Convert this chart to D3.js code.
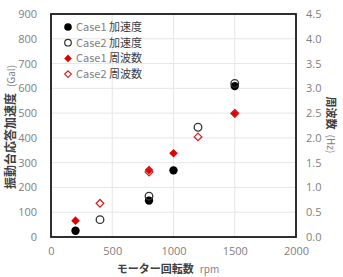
<!DOCTYPE html>
<html><head><meta charset="utf-8">
<script src="https://cdn.jsdelivr.net/npm/d3@7"></script>
<style>body{margin:0;background:#fff;}svg{display:block;}</style>
</head><body>
<script>
const case1Rpm = [200, 800, 1000, 1500];
const case1Acc = [25, 147, 269, 609];
const case1Freq = [0.33, 1.35, 1.69, 2.50];
const case2Rpm = [400, 800, 1200, 1500];
const case2Acc = [70, 165, 443, 620];
const case2Freq = [0.68, 1.31, 2.02, 2.49];
const xTicks = [0, 500, 1000, 1500, 2000];
const yTicks = [0,100,200,300,400,500,600,700,800,900];
const y2Ticks = [0,0.5,1,1.5,2,2.5,3,3.5,4,4.5];
const legendNames = [["Case1","加速度"],["Case2","加速度"],["Case1","周波数"],["Case2","周波数"]];

const W=343,H=277, L=51,R=296,T=14,B=237;
const svg=d3.select("body").append("svg").attr("width",W).attr("height",H);
const font="'Noto Sans CJK JP','Noto Sans',sans-serif";
const x=d3.scaleLinear().domain([0,2000]).range([L,R]);
const y=d3.scaleLinear().domain([0,900]).range([B,T]);
const y2=d3.scaleLinear().domain([0,4.5]).range([B,T]);

// gridlines
svg.append("g").selectAll("line").data(yTicks).join("line")
  .attr("x1",L).attr("x2",R).attr("y1",d=>y(d)).attr("y2",d=>y(d))
  .attr("stroke","#e6e6e6").attr("stroke-width",1);
svg.append("g").selectAll("line").data(xTicks).join("line")
  .attr("y1",T).attr("y2",B).attr("x1",d=>x(d)).attr("x2",d=>x(d))
  .attr("stroke","#e6e6e6").attr("stroke-width",1);

// axes (labels only)
const axL=d3.axisLeft(y).tickValues(yTicks).tickSize(0).tickPadding(14).tickFormat(d3.format("d"));
const gL=svg.append("g").attr("transform",`translate(${L},0)`).call(axL);
const axR=d3.axisRight(y2).tickValues(y2Ticks).tickSize(0).tickPadding(10).tickFormat(d3.format(".1f"));
const gR=svg.append("g").attr("transform",`translate(${R},0)`).call(axR);
const axB=d3.axisBottom(x).tickValues(xTicks).tickSize(0).tickPadding(10).tickFormat(d3.format("d"));
const gB=svg.append("g").attr("transform",`translate(0,${B})`).call(axB);
[gL,gR,gB].forEach(g=>{g.select(".domain").remove();
  g.selectAll("text").attr("fill","#808080").style("font-family","'Open Sans',sans-serif").style("font-size","11px");});

// frame
svg.append("rect").attr("x",L).attr("y",T).attr("width",R-L).attr("height",B-T)
  .attr("fill","none").attr("stroke","#1a1a1a").attr("stroke-width",1.8);

// markers
const dia=(s)=>`M0,${-s}L${s},0L0,${s}L${-s},0Z`;
svg.append("g").selectAll("circle").data(case1Rpm).join("circle")
  .attr("cx",d=>x(d)).attr("cy",(d,i)=>y(case1Acc[i])).attr("r",4.2).attr("fill","#000");
svg.append("g").selectAll("circle").data(case2Rpm).join("circle")
  .attr("cx",d=>x(d)).attr("cy",(d,i)=>y(case2Acc[i])).attr("r",3.8).attr("fill","none").attr("stroke","#333").attr("stroke-width",1.3);
svg.append("g").selectAll("path").data(case1Rpm).join("path")
  .attr("d",dia(4.3)).attr("transform",(d,i)=>`translate(${x(d)},${y2(case1Freq[i])})`).attr("fill","#e00000");
svg.append("g").selectAll("path").data(case2Rpm).join("path")
  .attr("d",dia(3.8)).attr("transform",(d,i)=>`translate(${x(d)},${y2(case2Freq[i])})`)
  .attr("fill","none").attr("stroke","#d42020").attr("stroke-width",1.3);

// legend
const lg=svg.append("g");
legendNames.forEach((n,i)=>{
  const ly=27+i*15.7, lx=68;
  if(i===0) lg.append("circle").attr("cx",lx).attr("cy",ly).attr("r",3.8).attr("fill","#000");
  if(i===1) lg.append("circle").attr("cx",lx).attr("cy",ly).attr("r",3.3).attr("fill","none").attr("stroke","#333").attr("stroke-width",1.2);
  if(i===2) lg.append("path").attr("d",dia(3.8)).attr("transform",`translate(${lx},${ly})`).attr("fill","#e00000");
  if(i===3) lg.append("path").attr("d",dia(3.3)).attr("transform",`translate(${lx},${ly})`).attr("fill","none").attr("stroke","#d42020").attr("stroke-width",1.2);
  const t=lg.append("text").attr("x",76).attr("y",ly+4).style("font-family",font).style("font-size","11px");
  t.append("tspan").text(n[0]).attr("fill","#7f7f7f");
  t.append("tspan").text(" "+n[1]).attr("fill","#404040");
});

// axis titles
svg.append("text").attr("transform","translate(15,127) rotate(-90)").attr("text-anchor","middle")
  .style("font-family",font).style("font-size","12px").attr("fill","#404040")
  .call(t=>{t.append("tspan").text("振動台応答加速度").attr("font-weight","bold");
            t.append("tspan").text("(Gal)").attr("dx",6).attr("fill","#7f7f7f").style("font-size","10px");});
svg.append("text").attr("transform","translate(327,125) rotate(90)").attr("text-anchor","middle")
  .style("font-family",font).style("font-size","11px").attr("fill","#404040")
  .call(t=>{t.append("tspan").text("周波数").attr("font-weight","bold");
            t.append("tspan").text("(Hz)").attr("dx",5).attr("fill","#7f7f7f").style("font-size","10px");});
svg.append("text").attr("x",168).attr("y",273).attr("text-anchor","middle")
  .style("font-family",font).style("font-size","11px").attr("fill","#404040")
  .call(t=>{t.append("tspan").text("モーター回転数").attr("font-weight","bold");
            t.append("tspan").text("rpm").attr("dx",6).attr("fill","#7f7f7f").style("font-size","10px");});
</script>
</body></html>
